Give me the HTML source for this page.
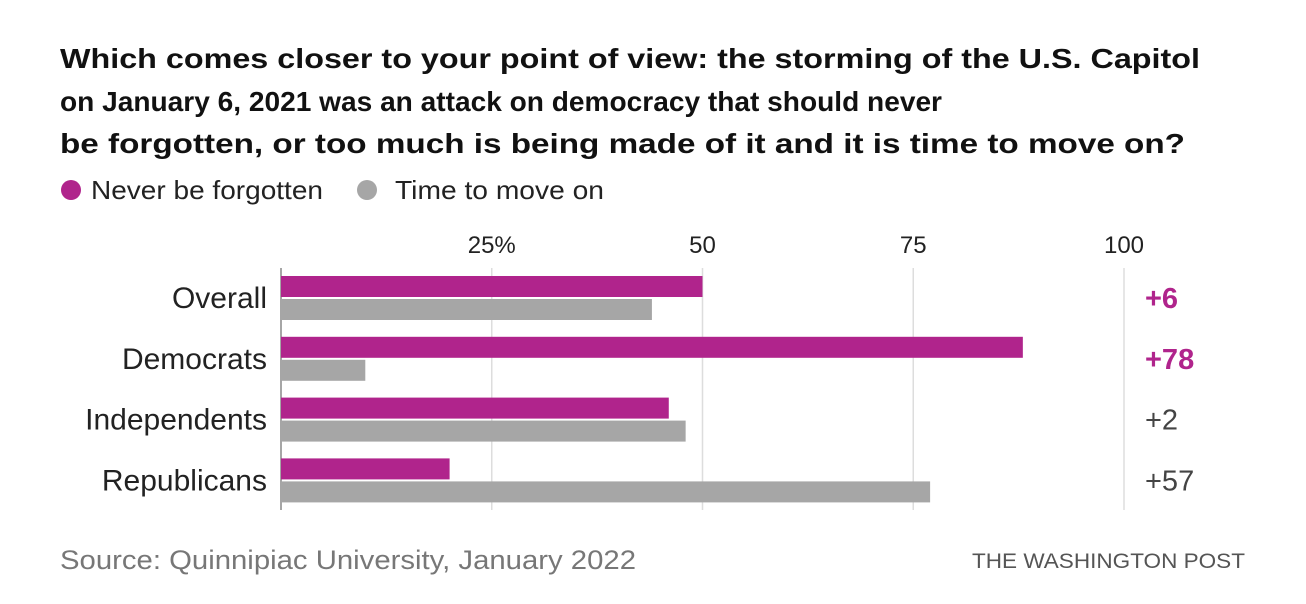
<!DOCTYPE html>
<html><head><meta charset="utf-8"><style>
html,body{margin:0;padding:0;background:#fff;}
svg{display:block;font-family:"Liberation Sans",sans-serif;}
</style></head><body>
<svg id="chart" width="1306" height="604" viewBox="0 0 1306 604">
<g font-size="28" font-weight="bold" fill="#111">
<text x="60" y="68" textLength="1140" lengthAdjust="spacingAndGlyphs">Which comes closer to your point of view: the storming of the U.S. Capitol</text>
<text x="60" y="111" textLength="882" lengthAdjust="spacingAndGlyphs">on January 6, 2021 was an attack on democracy that should never</text>
<text x="60" y="153" textLength="1125" lengthAdjust="spacingAndGlyphs">be forgotten, or too much is being made of it and it is time to move on?</text>
</g>
<g font-size="26" fill="#222">
<circle cx="71" cy="190" r="10" fill="#b0248c"/>
<text x="91" y="199" textLength="232" lengthAdjust="spacingAndGlyphs">Never be forgotten</text>
<circle cx="367" cy="190" r="10" fill="#a6a6a6"/>
<text x="395" y="199" textLength="209" lengthAdjust="spacingAndGlyphs">Time to move on</text>
</g>
<g id="grid"></g><g id="bars"></g><g id="labels"></g>
<text x="60" y="569" font-size="27" fill="#777" textLength="576" lengthAdjust="spacingAndGlyphs">Source: Quinnipiac University, January 2022</text>
<text x="1245" y="568" font-size="21" fill="#555" text-anchor="end" textLength="273" lengthAdjust="spacingAndGlyphs">THE WASHINGTON POST</text>
</svg>
<script>
const categories=["Overall","Democrats","Independents","Republicans"];
const neverValues=[50,88,46,20];
const moveOnValues=[44,10,48,77];
const diffLabels=["+6","+78","+2","+57"];
const diffHighlight=[true,true,false,false];
const ticks=[25,50,75,100];
const tickLabels=["25%","50","75","100"];
const NS="http://www.w3.org/2000/svg";
const x=v=>281+v*8.43;
const rowY=i=>276+i*60.8;
function mk(tag,attrs,parent){const e=document.createElementNS(NS,tag);for(const k in attrs)e.setAttribute(k,attrs[k]);document.getElementById(parent).appendChild(e);return e;}
ticks.forEach((t,i)=>{
 const l=mk("line",{x1:x(t),x2:x(t),y1:268,y2:510,stroke:"#ddd","stroke-width":1.5},"grid");
 
 
 const tx=mk("text",{x:x(t),y:253,"font-size":24,fill:"#222","text-anchor":"middle"},"grid");
 tx.textContent=tickLabels[i];
 
 
});
const ax=mk("line",{x1:281,x2:281,y1:268,y2:510,stroke:"#888","stroke-width":1.5},"grid");


categories.forEach((c,i)=>{
 const y=rowY(i);
 const b1=mk("rect",{x:281,y:y,width:x(neverValues[i])-281,height:21,fill:"#b0248c"},"bars");
 
 
 const b2=mk("rect",{x:281,y:y+23,width:x(moveOnValues[i])-281,height:21,fill:"#a6a6a6"},"bars");
 
 
 const lb=mk("text",{x:267,y:y+32,"font-size":30,fill:"#222","text-anchor":"end"},"labels");
 lb.textContent=c;
 
 
 const d=mk("text",{x:1145,y:y+32,"font-size":29,fill:diffHighlight[i]?"#b0248c":"#444","font-weight":diffHighlight[i]?"bold":"normal"},"labels");
 d.textContent=diffLabels[i];
 
 
});
</script>
</body></html>
